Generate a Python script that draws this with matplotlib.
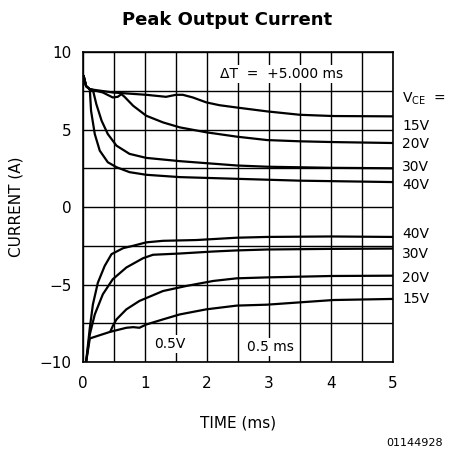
import matplotlib.pyplot as plt
import numpy as np

# upper (positive) curves: time in ms, current in A
t15_up = [0.01, 0.05, 0.11, 0.48, 1.02, 1.34, 1.45, 1.5, 1.61, 1.77, 1.99, 2.2, 2.48, 2.97, 3.5, 4.04, 5.0]
i15_up = [8.46, 7.8, 7.6, 7.39, 7.24, 7.11, 7.2, 7.24, 7.24, 7.07, 6.75, 6.57, 6.42, 6.17, 5.95, 5.87, 5.85]
t20_up = [0.01, 0.05, 0.11, 0.32, 0.48, 0.56, 0.62, 0.67, 0.81, 1.02, 1.29, 1.56, 1.99, 2.48, 2.97, 3.5, 4.04, 5.0]
i20_up = [8.46, 7.8, 7.6, 7.39, 7.07, 7.11, 7.28, 7.11, 6.53, 5.89, 5.46, 5.14, 4.82, 4.54, 4.32, 4.24, 4.19, 4.13]
t30_up = [0.01, 0.05, 0.11, 0.16, 0.215, 0.3, 0.4, 0.54, 0.75, 1.02, 1.56, 2.48, 2.97, 4.0, 5.0]
i30_up = [8.46, 7.8, 7.6, 7.55, 6.64, 5.57, 4.71, 3.96, 3.43, 3.17, 2.96, 2.68, 2.6, 2.53, 2.5]
t40_up = [0.01, 0.05, 0.11, 0.13, 0.19, 0.27, 0.4, 0.54, 0.75, 1.02, 1.56, 2.48, 3.5, 5.0]
i40_up = [8.46, 7.8, 7.6, 6.21, 4.71, 3.64, 2.89, 2.57, 2.25, 2.08, 1.93, 1.82, 1.7, 1.61]

# lower (negative) curves
t40_lo = [0.05, 0.11, 0.16, 0.24, 0.35, 0.46, 0.65, 0.81, 1.02, 1.29, 1.83, 2.48, 2.97, 4.0, 5.0]
i40_lo = [-10.0, -7.8, -6.28, -4.88, -3.8, -3.04, -2.65, -2.5, -2.28, -2.18, -2.13, -1.98, -1.93, -1.9, -1.93]
t30_lo = [0.05, 0.11, 0.19, 0.32, 0.48, 0.7, 0.97, 1.13, 1.56, 2.1, 2.48, 2.97, 4.0, 5.0]
i30_lo = [-10.0, -8.22, -6.93, -5.63, -4.66, -3.9, -3.3, -3.08, -3.0, -2.87, -2.8, -2.74, -2.7, -2.68]
t20_lo = [0.44, 0.48, 0.54, 0.7, 0.91, 1.29, 1.67, 2.1, 2.48, 2.97, 4.0, 5.0]
i20_lo = [-8.05, -7.68, -7.25, -6.6, -6.06, -5.42, -5.09, -4.77, -4.6, -4.54, -4.45, -4.43]
t15_lo = [0.05, 0.11, 0.27, 0.44, 0.7, 0.81, 0.91, 1.02, 1.29, 1.56, 1.99, 2.48, 2.97, 3.5, 4.04, 5.0]
i15_lo = [-10.0, -8.48, -8.27, -8.05, -7.79, -7.75, -7.79, -7.58, -7.25, -6.93, -6.6, -6.36, -6.3, -6.15, -6.0, -5.93]

upper_labels = ["15V", "20V", "30V", "40V"]
upper_label_y = [5.25, 4.05, 2.6, 1.45]
lower_labels = ["40V", "30V", "20V", "15V"]
lower_label_y = [-1.75, -3.05, -4.58, -5.95]

fig = plt.figure(figsize=(4.54, 4.54), dpi=100)
ax = fig.add_axes([0.1828, 0.2026, 0.6828, 0.6828])

curves = [(t15_up, i15_up), (t20_up, i20_up), (t30_up, i30_up), (t40_up, i40_up),
          (t40_lo, i40_lo), (t30_lo, i30_lo), (t20_lo, i20_lo), (t15_lo, i15_lo)]
for t, i in curves:
    ax.plot(t, i, color='black', lw=1.6, solid_joinstyle='round', solid_capstyle='round')

ax.set_xlim(0, 5)
ax.set_ylim(-10, 10)
ax.set_xticks(np.arange(0, 5.01, 1))
ax.set_yticks([-10, -5, 0, 5, 10])
ax.set_xticks(np.arange(0, 5.01, 0.5), minor=True)
ax.set_yticks(np.arange(-10, 10.01, 2.5), minor=True)
ax.grid(which='both', color='black', lw=1.0)
ax.tick_params(which='both', length=0, labelsize=11)
ax.tick_params(axis='x', pad=10)
ax.tick_params(axis='y', pad=8)
for s in ax.spines.values():
    s.set_linewidth(1.2)

ax.set_xlabel("TIME (ms)", fontsize=11, labelpad=18)
ax.set_ylabel("CURRENT (A)", fontsize=11, labelpad=12)
fig.suptitle("Peak Output Current", fontsize=13, fontweight='bold', y=0.975)

box = dict(facecolor='white', edgecolor='none', pad=1.5)
ax.text(3.2, 8.58, "\u0394T  =  +5.000 ms", fontsize=10, ha='center', va='center', bbox=box)
ax.text(1.4, -8.84, "0.5V", fontsize=10, ha='center', va='center', bbox=box)
ax.text(3.02, -9.03, "0.5 ms", fontsize=10, ha='center', va='center', bbox=box)

ax.text(5.15, 7.0, "V$_{\\mathregular{CE}}$  =", fontsize=10, ha='left', va='center')
for lab, y in zip(upper_labels, upper_label_y):
    ax.text(5.15, y, lab, fontsize=10, ha='left', va='center')
for lab, y in zip(lower_labels, lower_label_y):
    ax.text(5.15, y, lab, fontsize=10, ha='left', va='center')

fig.text(0.975, 0.025, "01144928", fontsize=8, ha='right', va='center')

fig.savefig("out.png", dpi=100)
